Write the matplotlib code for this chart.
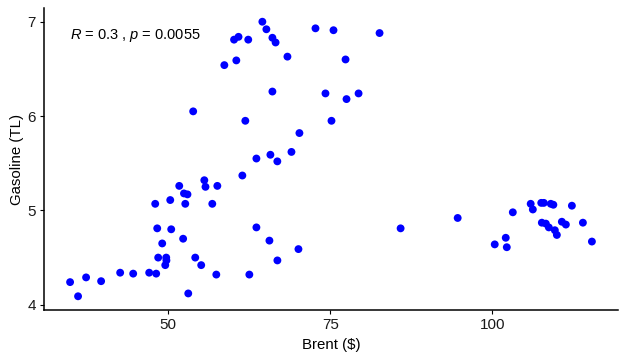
import matplotlib
matplotlib.use("Agg")
import matplotlib.pyplot as plt

plt.rcParams['font.family'] = ['Liberation Sans', 'DejaVu Sans']
plt.rcParams['mathtext.fontset'] = 'custom'
plt.rcParams['mathtext.rm'] = 'Liberation Sans'
plt.rcParams['mathtext.it'] = 'Liberation Sans:italic'

brent = [64.53, 65.15, 72.73, 60.16, 60.85, 62.35, 66.08, 66.57, 58.66, 60.51,
         68.40, 66.08, 53.85, 61.90, 70.25, 63.61, 65.77, 66.84, 69.02, 61.44,
         55.57, 75.51, 82.62, 77.37, 74.27, 79.38, 77.52, 75.20, 55.75, 57.58,
         51.70, 52.43, 52.97, 50.31, 47.99, 52.63, 56.80, 48.30, 50.46, 63.61,
         52.30, 49.07, 65.62, 70.10, 48.45, 49.69, 49.72, 54.17, 66.85, 49.54,
         55.09, 47.06, 48.14, 57.42, 62.52, 53.09, 34.85, 36.08, 37.32, 39.64,
         42.58, 44.59, 85.87, 94.68, 100.40, 102.10, 102.26, 103.19, 105.95, 106.28,
         107.58, 107.98, 109.05, 109.45, 112.31, 107.67, 108.29, 108.75, 109.68, 109.99,
         110.76, 111.38, 114.01, 115.40]
gasoline = [7.00, 6.92, 6.93, 6.81, 6.84, 6.81, 6.83, 6.78, 6.54, 6.59,
            6.63, 6.26, 6.05, 5.95, 5.82, 5.55, 5.59, 5.52, 5.62, 5.37,
            5.32, 6.91, 6.88, 6.60, 6.24, 6.24, 6.18, 5.95, 5.25, 5.26,
            5.26, 5.18, 5.17, 5.11, 5.07, 5.07, 5.07, 4.81, 4.80, 4.82,
            4.70, 4.65, 4.68, 4.59, 4.50, 4.50, 4.47, 4.50, 4.47, 4.42,
            4.42, 4.34, 4.33, 4.32, 4.32, 4.12, 4.24, 4.09, 4.29, 4.25,
            4.34, 4.33, 4.81, 4.92, 4.64, 4.71, 4.61, 4.98, 5.07, 5.01,
            5.08, 5.08, 5.07, 5.06, 5.05, 4.87, 4.86, 4.82, 4.79, 4.74,
            4.88, 4.85, 4.87, 4.67]

x_ticks = [50, 75, 100]
y_ticks = [4, 5, 6, 7]
annotation = r'$R$ = 0.3 , $p$ = 0.0055'
x_label = 'Brent ($)'
y_label = 'Gasoline (TL)'

W, H = 626, 362
fig = plt.figure(figsize=(W / 100, H / 100), dpi=100)
ax = fig.add_axes([44 / W, (H - 310) / H, (618 - 44) / W, (310 - 8) / H])

ax.scatter(brent, gasoline, s=32, color='#0000FF', edgecolors='none', zorder=3)
ax.margins(0.05)

ax.set_xticks(x_ticks)
ax.set_yticks(y_ticks)
ax.set_xticklabels([str(t) for t in x_ticks])
ax.set_yticklabels([str(t) for t in y_ticks])

for side in ['top', 'right']:
    ax.spines[side].set_visible(False)
for side in ['left', 'bottom']:
    ax.spines[side].set_linewidth(1.1)
    ax.spines[side].set_color('black')

ax.tick_params(axis='both', direction='out', length=3.2, width=0.8,
               labelsize=11, colors='black', labelcolor='#1a1a1a', pad=2.5)

ax.set_xlabel(x_label, fontsize=10.8, labelpad=4.5)
ax.set_ylabel(y_label, fontsize=10.8, labelpad=2.5)

ax.text(min(brent), 6.856, annotation, fontsize=10.5, ha='left', va='center')

fig.savefig('out.png', dpi=100)
